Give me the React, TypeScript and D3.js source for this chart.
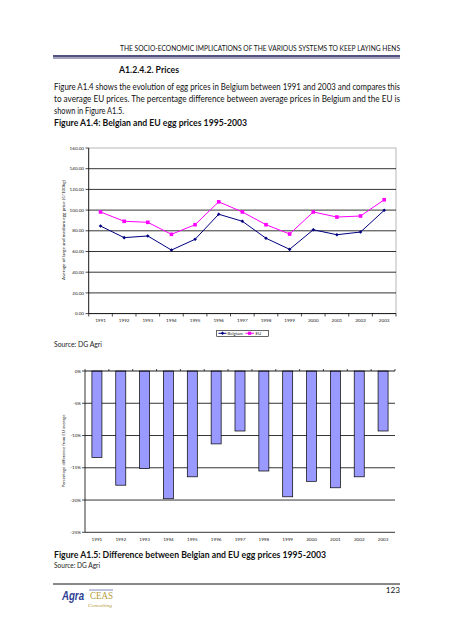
import React from "react";
import * as d3 from "d3";

const years = ["1991","1992","1993","1994","1995","1996","1997","1998","1999","2000","2001","2002","2003"];
const belgium = [84.6, 73.4, 75.0, 61.4, 71.8, 96.0, 89.2, 72.8, 62.1, 81.0, 76.2, 78.8, 99.8];
const eu = [98.2, 89.2, 88.2, 76.6, 85.9, 108.0, 98.2, 85.9, 76.9, 98.2, 93.3, 94.3, 110.0];
const priceTicks = [0, 20, 40, 60, 80, 100, 120, 140, 160];
const diffPct = [-13.4, -17.7, -15.1, -19.8, -16.4, -11.3, -9.3, -15.5, -19.5, -17.1, -18.1, -16.4, -9.3];
const pctTicks = [0, -5, -10, -15, -20, -25];

const FONT = "Lato, 'Open Sans', sans-serif";
const NAVY = "#000080";
const MAG = "#ff00ff";

export default function App() {
  // Line chart
  const x1 = d3.scaleBand<string>().domain(years).range([88.7, 396]);
  const y1 = d3.scaleLinear().domain([0, 160]).range([313.6, 148]);
  const cx1 = (d: string) => (x1(d) as number) + x1.bandwidth() / 2;
  const lineB = d3.line<number>().x((_, i) => cx1(years[i])).y((v) => y1(v));
  const lineE = d3.line<number>().x((_, i) => cx1(years[i])).y((v) => y1(v));

  // Bar chart
  const x2 = d3.scaleBand<string>().domain(years).range([85, 395]).paddingInner(0.58).paddingOuter(0.29);
  const xb2 = d3.scaleBand<string>().domain(years).range([85, 395]);
  const y2 = d3.scaleLinear().domain([-25, 0]).range([532.3, 371]);

  const tickFont = 4.6;

  return (
    <div style={{ position: "absolute", left: 0, top: 0 }}>
      <svg width={453} height={640} style={{ display: "block", background: "#fff" }} fontFamily={FONT}>
        {/* Header */}
        <text x={400} y={51} fontSize={7.2} textAnchor="end" fill="#111" textLength={280} lengthAdjust="spacingAndGlyphs">
          THE SOCIO-ECONOMIC IMPLICATIONS OF THE VARIOUS SYSTEMS TO KEEP LAYING HENS
        </text>
        <line x1={53} x2={400} y1={56} y2={56} stroke="#1a1a5a" strokeWidth={1.3} />
        <line x1={53} x2={400} y1={58} y2={58} stroke="#1a1a5a" strokeWidth={0.8} />

        <text x={119} y={73} fontSize={8.8} fontWeight="bold" fill="#111" textLength={60} lengthAdjust="spacingAndGlyphs">A1.2.4.2. Prices</text>

        <text x={54} y={90} fontSize={8.6} fill="#111" textLength={346} lengthAdjust="spacingAndGlyphs">
          Figure A1.4 shows the evolution of egg prices in Belgium between 1991 and 2003 and compares this
        </text>
        <text x={54} y={102} fontSize={8.6} fill="#111" textLength={346} lengthAdjust="spacingAndGlyphs">
          to average EU prices. The percentage difference between average prices in Belgium and the EU is
        </text>
        <text x={54} y={114} fontSize={8.6} fill="#111" textLength={70} lengthAdjust="spacingAndGlyphs">
          shown in Figure A1.5.
        </text>
        <text x={54} y={126} fontSize={8.8} fontWeight="bold" fill="#111" textLength={193} lengthAdjust="spacingAndGlyphs">
          Figure A1.4: Belgian and EU egg prices 1995-2003
        </text>

        {/* Line chart frame */}
        <rect x={88.7} y={148} width={396 - 88.7} height={313.6 - 148} fill="none" stroke="#999" strokeWidth={0.7} />
        {priceTicks.filter((t) => t > 0 && t < 160).map((t) => (
          <line key={t} x1={88.7} x2={396} y1={y1(t)} y2={y1(t)} stroke="#000" strokeWidth={0.8} />
        ))}
        {/* y axis */}
        <line x1={88.7} x2={88.7} y1={148} y2={313.6} stroke="#000" strokeWidth={0.8} />
        {priceTicks.map((t) => (
          <g key={t}>
            <line x1={85.5} x2={88.7} y1={y1(t)} y2={y1(t)} stroke="#000" strokeWidth={0.7} />
            <text x={84} y={y1(t) + 1.6} fontSize={tickFont} textAnchor="end" fill="#222">{t.toFixed(2)}</text>
          </g>
        ))}
        {/* x axis */}
        <line x1={88.7} x2={396} y1={313.6} y2={313.6} stroke="#000" strokeWidth={0.9} />
        {years.map((yr) => (
          <line key={"t" + yr} x1={x1(yr) as number} x2={x1(yr) as number} y1={313.6} y2={316.5} stroke="#000" strokeWidth={0.7} />
        ))}
        <line x1={396} x2={396} y1={313.6} y2={316.5} stroke="#000" strokeWidth={0.7} />
        {years.map((yr) => (
          <text key={"l" + yr} x={cx1(yr)} y={321.5} fontSize={tickFont} textAnchor="middle" fill="#222">{yr}</text>
        ))}
        <text transform={`translate(64.5,230) rotate(-90)`} fontSize={4.4} textAnchor="middle" fill="#222" textLength={100} lengthAdjust="spacingAndGlyphs">
          Average of large and medium egg price (€/100kg)
        </text>

        {/* Lines */}
        <path d={lineB(belgium) || ""} fill="none" stroke={NAVY} strokeWidth={1} />
        <path d={lineE(eu) || ""} fill="none" stroke={MAG} strokeWidth={1} />
        {belgium.map((v, i) => {
          const cx = cx1(years[i]);
          const cy = y1(v);
          return <path key={"b" + i} d={`M${cx},${cy - 1.8}L${cx + 1.8},${cy}L${cx},${cy + 1.8}L${cx - 1.8},${cy}Z`} fill={NAVY} />;
        })}
        {eu.map((v, i) => (
          <rect key={"e" + i} x={cx1(years[i]) - 1.8} y={y1(v) - 1.8} width={3.6} height={3.6} fill={MAG} />
        ))}

        {/* Legend */}
        <rect x={216.7} y={330.3} width={51.6} height={6} fill="#fff" stroke="#000" strokeWidth={0.6} />
        <line x1={218.5} x2={226.5} y1={333.3} y2={333.3} stroke={NAVY} strokeWidth={1} />
        <path d="M222.5,331.6L224.2,333.3L222.5,335L220.8,333.3Z" fill={NAVY} />
        <text x={227.5} y={334.9} fontSize={4.3} fill="#222">Belgium</text>
        <line x1={245.5} x2={254} y1={333.3} y2={333.3} stroke={MAG} strokeWidth={1} />
        <rect x={248} y={331.7} width={3.2} height={3.2} fill={MAG} />
        <text x={255.5} y={334.9} fontSize={4.3} fill="#222">EU</text>

        <text x={54} y={347} fontSize={7.4} fill="#222" textLength={48} lengthAdjust="spacingAndGlyphs">Source: DG Agri</text>

        {/* Bar chart */}
        {pctTicks.filter((t) => t < 0).map((t) => (
          <line key={"g" + t} x1={85} x2={395} y1={y2(t)} y2={y2(t)} stroke="#000" strokeWidth={0.8} />
        ))}
        {diffPct.map((v, i) => (
          <rect key={"bar" + i} x={x2(years[i]) as number} y={y2(0)} width={x2.bandwidth()} height={y2(v) - y2(0)}
            fill="#9999ff" stroke="#000" strokeWidth={0.7} />
        ))}
        <line x1={85} x2={395} y1={y2(0)} y2={y2(0)} stroke="#000" strokeWidth={0.9} />
        {years.map((yr) => (
          <line key={"bt" + yr} x1={xb2(yr) as number} x2={xb2(yr) as number} y1={y2(0) - 2} y2={y2(0)} stroke="#000" strokeWidth={0.7} />
        ))}
        <line x1={395} x2={395} y1={y2(0) - 2} y2={y2(0)} stroke="#000" strokeWidth={0.7} />
        <line x1={85} x2={85} y1={371} y2={532.3} stroke="#000" strokeWidth={0.8} />
        {pctTicks.map((t) => (
          <g key={"p" + t}>
            <line x1={82} x2={85} y1={y2(t)} y2={y2(t)} stroke="#000" strokeWidth={0.7} />
            <text x={81} y={y2(t) + 1.6} fontSize={tickFont} textAnchor="end" fill="#222">{t}%</text>
          </g>
        ))}
        {years.map((yr) => (
          <text key={"bl" + yr} x={(xb2(yr) as number) + xb2.bandwidth() / 2} y={540.5} fontSize={tickFont} textAnchor="middle" fill="#222">{yr}</text>
        ))}
        <text transform={`translate(64.5,451) rotate(-90)`} fontSize={4.4} textAnchor="middle" fill="#222" textLength={73} lengthAdjust="spacingAndGlyphs">
          Percentage difference from EU average
        </text>

        <text x={54} y={557.5} fontSize={8.8} fontWeight="bold" fill="#111" textLength={272} lengthAdjust="spacingAndGlyphs">
          Figure A1.5: Difference between Belgian and EU egg prices 1995-2003
        </text>
        <text x={54} y={568} fontSize={7.2} fill="#222" textLength={46} lengthAdjust="spacingAndGlyphs">Source: DG Agri</text>

        {/* Footer */}
        <line x1={53} x2={400} y1={584} y2={584} stroke="#111" strokeWidth={1} />
        <text x={400} y={593} fontSize={8.2} textAnchor="end" fill="#111">123</text>
        <text x={62} y={600} fontSize={13} fontStyle="italic" fontWeight="bold" fill="#2b3d93" fontFamily="'Liberation Sans Narrow', 'Liberation Sans', sans-serif" textLength={22} lengthAdjust="spacingAndGlyphs">Agra</text>
        <text x={90} y={599} fontSize={10.5} fill="#b59a3c" fontFamily="'Liberation Serif', serif" textLength={23} lengthAdjust="spacingAndGlyphs">CEAS</text>
        <line x1={89} x2={113} y1={590} y2={590} stroke="#2b3d93" strokeWidth={0.6} />
        <text x={88} y={606.5} fontSize={4.2} fontStyle="italic" fill="#b59a3c" fontFamily="'Liberation Serif', serif" textLength={24} lengthAdjust="spacingAndGlyphs">Consulting</text>
      </svg>
    </div>
  );
}
